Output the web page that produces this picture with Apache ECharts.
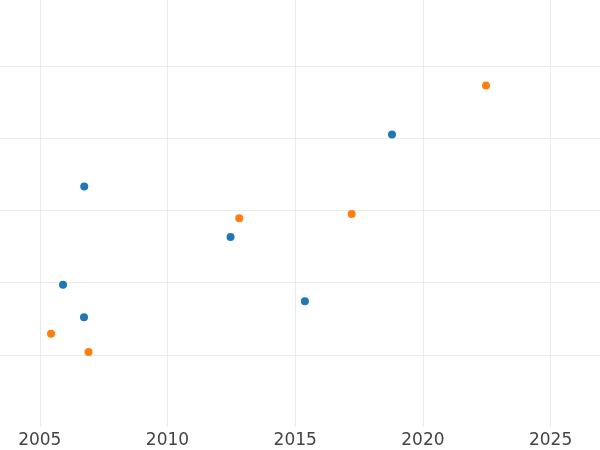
<!DOCTYPE html>
<html>
<head>
<meta charset="utf-8">
<script src="https://cdn.jsdelivr.net/npm/echarts@6/dist/echarts.min.js"></script>
<style>html,body{margin:0;padding:0;background:#fff}#c{width:600px;height:450px}</style>
</head>
<body>
<div id="c"></div>
<script>
var xTicks = [2005, 2010, 2015, 2020, 2025];
var yTicks = [10, 20, 30, 40, 50];
var blueX = [2006.74, 2005.91, 2006.73, 2012.47, 2015.38, 2018.79];
var blueY = [33.3, 19.7, 15.2, 26.3, 17.4, 40.5];
var orangeX = [2005.44, 2006.91, 2012.81, 2017.21, 2022.47];
var orangeY = [12.9, 10.4, 28.9, 29.5, 47.3];

function pairs(xs, ys) { return xs.map(function (x, i) { return [x, ys[i]]; }); }

var chart = echarts.init(document.getElementById('c'), null, { renderer: 'canvas' });
chart.setOption({
  animation: false,
  backgroundColor: '#ffffff',
  grid: { left: 0, right: 0, top: 0, bottom: 23, containLabel: false },
  xAxis: {
    type: 'value', min: 2003.442, max: 2026.934,
    axisLine: { show: false },
    axisTick: { show: false, customValues: xTicks },
    axisLabel: { color: '#444', fontSize: 17, fontFamily: 'DejaVu Sans', margin: 5,
      customValues: xTicks, formatter: function (v) { return String(v); } },
    splitLine: { show: true, lineStyle: { color: '#ebebeb', width: 1 } }
  },
  yAxis: {
    type: 'value', min: 0, max: 59.14,
    axisLine: { show: false },
    axisTick: { show: false, customValues: yTicks },
    axisLabel: { show: false, customValues: yTicks },
    splitLine: { show: true, lineStyle: { color: '#ebebeb', width: 1 } }
  },
  series: [
    { type: 'scatter', data: pairs(blueX, blueY), symbolSize: 8, itemStyle: { color: '#1f77b4', opacity: 1 } },
    { type: 'scatter', data: pairs(orangeX, orangeY), symbolSize: 8, itemStyle: { color: '#ff7f0e', opacity: 1 } }
  ]
});
</script>
</body>
</html>
